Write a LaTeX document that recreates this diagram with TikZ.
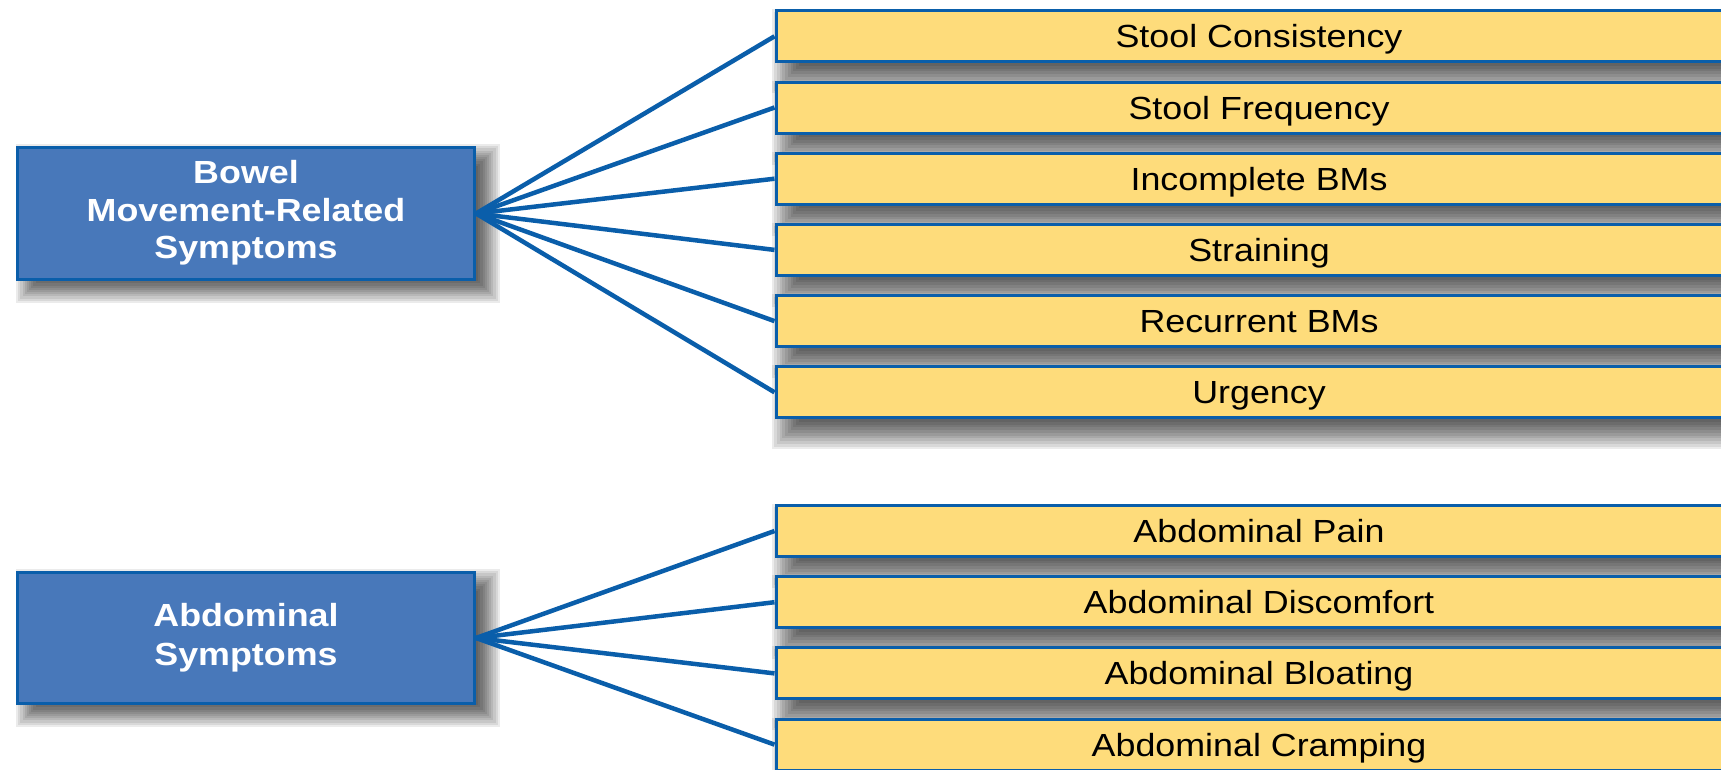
\documentclass[tikz,border=0pt]{standalone}
\usepackage{fontspec}
\newfontfamily\lab{Liberation Sans}[FakeStretch=1.12]
\usetikzlibrary{calc,backgrounds}
\definecolor{bfill}{RGB}{72,120,186}
\definecolor{bline}{RGB}{10,94,170}
\definecolor{yfill}{RGB}{254,220,123}
\tikzset{
  catbox/.style={draw=bline, line width=3pt, fill=bfill, text=white,
    minimum width=457pt, minimum height=132pt, inner sep=0pt,
    align=center, font=\lab\bfseries\fontsize{32}{38}\selectfont},
  itembox/.style={draw=bline, line width=3pt, fill=yfill, text=black,
    minimum width=966pt, minimum height=51pt, inner sep=0pt, anchor=west,
    text height=23pt, text depth=0pt,
    font=\lab\fontsize{32}{38}\selectfont},
  conn/.style={draw=bline, line width=4.5pt},
  shadowlayer/.style={fill=black, opacity=0.08}
}
% #1 node, #2 dx, #3 dy, #4 blur half-width
\newcommand{\softshadow}[4]{%
  \foreach \k in {0,...,11}{%
    \pgfmathsetmacro{\e}{-#4+2*#4*\k/11}%
    \fill[shadowlayer] ($(#1.south west)+(#2,#3)+(-\e,-\e)$) rectangle ($(#1.north east)+(#2,#3)+(\e,\e)$);
  }}
\begin{document}
\begin{tikzpicture}[x=1pt,y=1pt]
\useasboundingbox (0,0) rectangle (1721,-769);
\clip (0,0) rectangle (1721,-769);
% category boxes
\node[catbox] (bm) at (246,-213.5) {\raisebox{5pt}{\begin{tabular}{@{}c@{}}Bowel\\[-0.5pt]Movement-Related\\[-0.5pt]Symptoms\end{tabular}}};
\node[catbox, minimum height=131pt] (ab) at (246,-638) {\raisebox{10pt}{\begin{tabular}{@{}c@{}}Abdominal\\[1pt]Symptoms\end{tabular}}};
% item boxes
\node[itembox] (i1) at (774.5,-36.3) {Stool Consistency};
\node[itembox] (i2) at (774.5,-107.5) {Stool Frequency};
\node[itembox] (i3) at (774.5,-178.7) {Incomplete BMs};
\node[itembox] (i4) at (774.5,-249.9) {Straining};
\node[itembox] (i5) at (774.5,-321.1) {Recurrent BMs};
\node[itembox] (i6) at (774.5,-392.3) {Urgency};
\node[itembox] (a1) at (774.5,-531) {Abdominal Pain};
\node[itembox] (a2) at (774.5,-602.2) {Abdominal Discomfort};
\node[itembox] (a3) at (774.5,-673.4) {Abdominal Bloating};
\node[itembox] (a4) at (774.5,-744.6) {Abdominal Cramping};
% shadows
\begin{pgfonlayer}{background}
  \fill[white] (0,0) rectangle (1721,-769);
  \softshadow{bm}{12}{-10}{12}
  \softshadow{ab}{12}{-10}{12}
  \foreach \n in {i1,i2,i3,i4,i5,i6,a1,a2,a3,a4}{\softshadow{\n}{12}{-15}{15}}
\end{pgfonlayer}
% connectors
\foreach \t in {i1,i2,i3,i4,i5,i6} \draw[conn] (bm.east) -- (\t.west);
\foreach \t in {a1,a2,a3,a4} \draw[conn] (ab.east) -- (\t.west);
\end{tikzpicture}
\end{document}
